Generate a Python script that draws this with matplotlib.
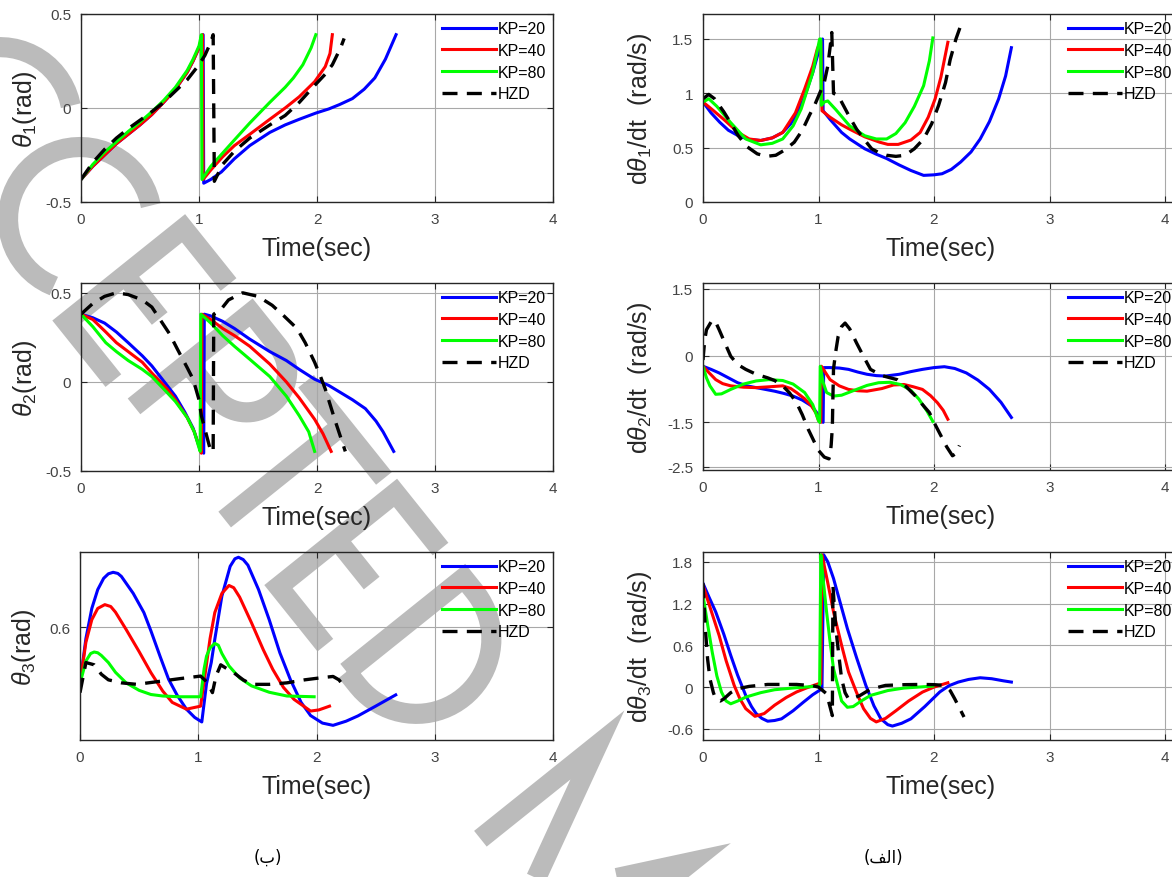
import numpy as np
import matplotlib
matplotlib.use("Agg")
import matplotlib.pyplot as plt

plt.rcParams['font.family'] = ['Liberation Sans', 'DejaVu Sans']
plt.rcParams['axes.unicode_minus'] = False
plt.rcParams['mathtext.fontset'] = 'custom'
plt.rcParams['mathtext.rm'] = 'Liberation Sans'
plt.rcParams['mathtext.it'] = 'Liberation Sans:italic'

# ---------------- data ----------------
labels = ['KP=20', 'KP=40', 'KP=80', 'HZD']

# theta1 (rad)
th1_t20 = [0, 0.1, 0.2, 0.3, 0.4, 0.5, 0.6, 0.7, 0.8, 0.9, 0.95, 1.0, 1.035, 1.04, 1.1, 1.19, 1.3, 1.43, 1.6, 1.73,
           1.85, 1.99, 2.1, 2.19, 2.3, 2.4, 2.49, 2.58, 2.67]
th1_y20 = [-0.38, -0.31, -0.25, -0.19, -0.14, -0.09, -0.035, 0.03, 0.1, 0.19, 0.25, 0.32, 0.39, -0.40, -0.38, -0.34,
           -0.27, -0.20, -0.13, -0.09, -0.06, -0.027, -0.005, 0.018, 0.05, 0.10, 0.16, 0.26, 0.39]
th1_t40 = [0, 0.1, 0.2, 0.3, 0.4, 0.5, 0.6, 0.7, 0.8, 0.9, 0.95, 1.0, 1.03, 1.035, 1.1, 1.2, 1.3, 1.43, 1.6, 1.73,
           1.85, 1.98, 2.07, 2.11, 2.13]
th1_y40 = [-0.38, -0.31, -0.25, -0.19, -0.14, -0.09, -0.035, 0.03, 0.1, 0.19, 0.25, 0.32, 0.39, -0.38, -0.33, -0.26,
           -0.20, -0.14, -0.06, 0.0, 0.06, 0.14, 0.22, 0.29, 0.39]
th1_t80 = [0, 0.1, 0.2, 0.3, 0.4, 0.5, 0.6, 0.7, 0.8, 0.9, 0.95, 1.0, 1.02, 1.025, 1.1, 1.2, 1.3, 1.43, 1.6, 1.73,
           1.8, 1.88, 1.95, 1.99]
th1_y80 = [-0.38, -0.30, -0.235, -0.18, -0.125, -0.075, -0.02, 0.04, 0.11, 0.20, 0.26, 0.33, 0.39, -0.38, -0.31, -0.24,
           -0.17, -0.08, 0.03, 0.11, 0.16, 0.23, 0.32, 0.39]
th1_th = [0, 0.1, 0.2, 0.3, 0.4, 0.5, 0.6, 0.7, 0.8, 0.9, 1.0, 1.05, 1.1, 1.12, 1.13, 1.2, 1.3, 1.43, 1.6, 1.73,
          1.85, 1.98, 2.07, 2.13, 2.2, 2.23]
th1_yh = [-0.38, -0.29, -0.22, -0.16, -0.11, -0.065, -0.02, 0.03, 0.09, 0.15, 0.23, 0.28, 0.35, 0.39, -0.39, -0.30,
          -0.23, -0.16, -0.09, -0.04, 0.03, 0.12, 0.18, 0.23, 0.32, 0.37]

# theta2 (rad)
th2_t20 = [0, 0.1, 0.2, 0.3, 0.4, 0.52, 0.6, 0.73, 0.8, 0.88, 0.95, 1.01, 1.04, 1.045, 1.1, 1.2, 1.3, 1.43, 1.6,
           1.74, 1.85, 1.98, 2.1, 2.2, 2.3, 2.41, 2.5, 2.56, 2.65]
th2_y20 = [0.38, 0.36, 0.33, 0.28, 0.22, 0.146, 0.09, -0.02, -0.08, -0.17, -0.26, -0.38, -0.40, 0.38, 0.37, 0.34,
           0.30, 0.24, 0.17, 0.12, 0.07, 0.015, -0.02, -0.06, -0.10, -0.15, -0.22, -0.28, -0.39]
th2_t40 = [0, 0.1, 0.21, 0.3, 0.4, 0.52, 0.6, 0.73, 0.8, 0.9, 0.96, 1.01, 1.02, 1.025, 1.1, 1.2, 1.3, 1.43, 1.6,
           1.74, 1.85, 1.98, 2.05, 2.12]
th2_y40 = [0.38, 0.35, 0.28, 0.22, 0.17, 0.11, 0.05, -0.04, -0.10, -0.20, -0.28, -0.38, -0.40, 0.38, 0.35, 0.30,
           0.26, 0.20, 0.10, 0.0, -0.09, -0.21, -0.29, -0.39]
th2_t80 = [0, 0.1, 0.21, 0.3, 0.4, 0.52, 0.6, 0.73, 0.8, 0.9, 0.96, 1.0, 1.01, 1.015, 1.05, 1.1, 1.2, 1.3, 1.43,
           1.6, 1.74, 1.85, 1.93, 1.98]
th2_y80 = [0.38, 0.31, 0.22, 0.17, 0.12, 0.07, 0.03, -0.06, -0.11, -0.20, -0.28, -0.37, -0.39, 0.38, 0.36, 0.33,
           0.26, 0.20, 0.127, 0.03, -0.08, -0.19, -0.28, -0.39]
th2_th = [0, 0.1, 0.2, 0.3, 0.4, 0.52, 0.6, 0.67, 0.75, 0.82, 0.9, 0.95, 1.0, 1.02, 1.06, 1.10, 1.12, 1.125, 1.19,
          1.25, 1.37, 1.5, 1.62, 1.72, 1.83, 1.9, 1.98, 2.03, 2.07, 2.15, 2.2, 2.24]
th2_yh = [0.38, 0.44, 0.48, 0.50, 0.49, 0.46, 0.42, 0.35, 0.27, 0.18, 0.08, 0.015, -0.10, -0.19, -0.29, -0.39,
          -0.39, 0.38, 0.41, 0.46, 0.50, 0.48, 0.43, 0.37, 0.30, 0.22, 0.11, 0.03, -0.04, -0.21, -0.31, -0.39]

# theta3 (rad)
th3_t20 = [0, 0.05, 0.1, 0.15, 0.2, 0.24, 0.28, 0.32, 0.35, 0.45, 0.54, 0.6, 0.68, 0.75, 0.82, 0.9, 0.97, 1.03,
           1.07, 1.11, 1.14, 1.2, 1.27, 1.31, 1.34, 1.38, 1.42, 1.51, 1.6, 1.69, 1.78, 1.87, 1.95, 2.05, 2.14,
           2.25, 2.35, 2.5, 2.67]
th3_y20 = [0.45, 0.57, 0.65, 0.70, 0.73, 0.742, 0.746, 0.743, 0.735, 0.69, 0.639, 0.59, 0.52, 0.461, 0.42, 0.382,
           0.36, 0.348, 0.45, 0.506, 0.568, 0.683, 0.762, 0.782, 0.786, 0.78, 0.765, 0.70, 0.62, 0.532, 0.46,
           0.40, 0.365, 0.345, 0.339, 0.35, 0.364, 0.39, 0.42]
th3_t40 = [0, 0.05, 0.1, 0.15, 0.21, 0.26, 0.3, 0.39, 0.5, 0.6, 0.7, 0.78, 0.9, 1.02, 1.06, 1.1, 1.14, 1.2, 1.26,
           1.3, 1.35, 1.45, 1.55, 1.63, 1.72, 1.81, 1.95, 2.02, 2.11]
th3_y40 = [0.45, 0.56, 0.62, 0.65, 0.66, 0.655, 0.64, 0.594, 0.535, 0.479, 0.43, 0.40, 0.382, 0.39, 0.48, 0.57,
           0.639, 0.69, 0.711, 0.705, 0.68, 0.612, 0.54, 0.488, 0.44, 0.408, 0.377, 0.38, 0.39]
th3_t80 = [0, 0.05, 0.09, 0.12, 0.15, 0.18, 0.24, 0.3, 0.39, 0.5, 0.6, 0.7, 0.84, 1.02, 1.05, 1.07, 1.1, 1.14,
           1.17, 1.2, 1.26, 1.35, 1.45, 1.6, 1.75, 1.98]
th3_y80 = [0.45, 0.51, 0.53, 0.534, 0.532, 0.525, 0.506, 0.48, 0.452, 0.432, 0.421, 0.417, 0.415, 0.415, 0.49,
           0.523, 0.545, 0.557, 0.552, 0.53, 0.497, 0.465, 0.444, 0.427, 0.417, 0.415]
th3_th = [0, 0.05, 0.12, 0.18, 0.24, 0.35, 0.48, 0.65, 0.84, 1.02, 1.08, 1.12, 1.15, 1.19, 1.24, 1.3, 1.38, 1.45,
          1.6, 1.75, 1.9, 2.05, 2.14, 2.19, 2.22]
th3_yh = [0.426, 0.506, 0.50, 0.475, 0.46, 0.452, 0.448, 0.455, 0.463, 0.47, 0.452, 0.426, 0.47, 0.50, 0.49, 0.479,
          0.46, 0.448, 0.448, 0.452, 0.46, 0.466, 0.469, 0.46, 0.448]

# d theta1 / dt (rad/s)
dth1_t20 = [0, 0.07, 0.145, 0.22, 0.305, 0.4, 0.5, 0.6, 0.69, 0.76, 0.82, 0.88, 0.95, 1.0, 1.035, 1.04, 1.1, 1.2,
            1.27, 1.4, 1.5, 1.59, 1.7, 1.8, 1.91, 2.0, 2.07, 2.15, 2.23, 2.32, 2.4, 2.48, 2.56, 2.62, 2.67]
dth1_y20 = [0.92, 0.82, 0.734, 0.66, 0.61, 0.575, 0.566, 0.59, 0.64, 0.72, 0.826, 0.97, 1.19, 1.38, 1.50, 0.84,
            0.76, 0.64, 0.58, 0.49, 0.44, 0.40, 0.34, 0.29, 0.245, 0.25, 0.26, 0.30, 0.367, 0.46, 0.58, 0.74,
            0.95, 1.16, 1.42]
dth1_t40 = [0, 0.08, 0.18, 0.305, 0.4, 0.5, 0.6, 0.69, 0.8, 0.88, 0.95, 0.99, 1.02, 1.03, 1.1, 1.2, 1.27, 1.4,
            1.53, 1.6, 1.69, 1.8, 1.88, 1.95, 2.01, 2.06, 2.12]
dth1_y40 = [0.92, 0.85, 0.76, 0.64, 0.58, 0.566, 0.59, 0.64, 0.82, 1.04, 1.25, 1.41, 1.48, 0.84, 0.78, 0.71, 0.67,
            0.60, 0.55, 0.53, 0.53, 0.57, 0.64, 0.78, 0.95, 1.15, 1.47]
dth1_t80 = [0, 0.05, 0.12, 0.24, 0.37, 0.5, 0.6, 0.69, 0.78, 0.85, 0.95, 1.01, 1.02, 1.025, 1.05, 1.08, 1.15, 1.27,
            1.4, 1.5, 1.59, 1.67, 1.75, 1.83, 1.91, 1.96, 1.99]
dth1_y80 = [0.92, 0.95, 0.88, 0.73, 0.58, 0.526, 0.54, 0.58, 0.70, 0.856, 1.19, 1.50, 1.50, 0.89, 0.92, 0.93, 0.85,
            0.70, 0.61, 0.58, 0.58, 0.63, 0.73, 0.88, 1.07, 1.30, 1.51]
dth1_th = [0, 0.05, 0.1, 0.18, 0.25, 0.305, 0.38, 0.47, 0.55, 0.63, 0.71, 0.79, 0.86, 0.92, 0.97, 1.01, 1.05, 1.08,
           1.1, 1.115, 1.13, 1.17, 1.2, 1.27, 1.33, 1.4, 1.46, 1.53, 1.59, 1.67, 1.75, 1.83, 1.91, 1.98, 2.04,
           2.1, 2.14, 2.19, 2.23]
dth1_yh = [0.95, 0.99, 0.95, 0.83, 0.71, 0.61, 0.51, 0.443, 0.42, 0.43, 0.48, 0.55, 0.66, 0.795, 0.90, 1.0, 1.1,
           1.25, 1.42, 1.56, 1.0, 0.98, 0.92, 0.78, 0.67, 0.57, 0.49, 0.45, 0.43, 0.42, 0.43, 0.49, 0.58, 0.72,
           0.89, 1.10, 1.31, 1.50, 1.62]

# d theta2 / dt (rad/s)
dth2_t20 = [0, 0.07, 0.14, 0.22, 0.30, 0.38, 0.46, 0.54, 0.62, 0.7, 0.78, 0.86, 0.94, 0.99, 1.02, 1.04, 1.045,
            1.1, 1.18, 1.26, 1.34, 1.42, 1.5, 1.58, 1.7, 1.8, 1.9, 2.0, 2.09, 2.18, 2.28, 2.38, 2.48, 2.58, 2.67]
dth2_y20 = [-0.24, -0.31, -0.39, -0.50, -0.61, -0.68, -0.72, -0.76, -0.80, -0.85, -0.91, -1.0, -1.13, -1.3,
            -1.46, -1.5, -0.27, -0.27, -0.28, -0.31, -0.37, -0.42, -0.45, -0.46, -0.42, -0.36, -0.31, -0.27,
            -0.25, -0.29, -0.39, -0.55, -0.76, -1.05, -1.39]
dth2_t40 = [0, 0.05, 0.11, 0.17, 0.24, 0.35, 0.46, 0.58, 0.69, 0.76, 0.81, 0.88, 0.94, 0.98, 1.0, 1.02, 1.025,
            1.06, 1.1, 1.18, 1.26, 1.34, 1.42, 1.55, 1.65, 1.74, 1.82, 1.9, 1.97, 2.03, 2.08, 2.12]
dth2_y40 = [-0.24, -0.38, -0.54, -0.63, -0.68, -0.71, -0.72, -0.70, -0.68, -0.74, -0.83, -0.97, -1.13, -1.3,
            -1.46, -1.5, -0.24, -0.38, -0.54, -0.68, -0.76, -0.79, -0.80, -0.74, -0.66, -0.65, -0.70, -0.76,
            -0.90, -1.06, -1.23, -1.43]
dth2_t80 = [0, 0.03, 0.06, 0.11, 0.16, 0.24, 0.35, 0.46, 0.57, 0.69, 0.78, 0.88, 0.95, 1.0, 1.01, 1.015, 1.04,
            1.07, 1.13, 1.2, 1.33, 1.42, 1.52, 1.62, 1.71, 1.8, 1.87, 1.94, 1.99]
dth2_y80 = [-0.24, -0.5, -0.68, -0.87, -0.86, -0.76, -0.64, -0.57, -0.54, -0.56, -0.64, -0.83, -1.1, -1.46,
            -1.5, -0.24, -0.6, -0.83, -0.91, -0.89, -0.76, -0.67, -0.61, -0.60, -0.65, -0.78, -0.98, -1.25, -1.48]
dth2_th = [0, 0.015, 0.03, 0.08, 0.11, 0.14, 0.19, 0.24, 0.3, 0.37, 0.46, 0.56, 0.62, 0.69, 0.75, 0.81, 0.86,
           0.91, 0.96, 1.0, 1.05, 1.09, 1.1, 1.11, 1.12, 1.125, 1.13, 1.15, 1.17, 1.2, 1.23, 1.27, 1.33, 1.39,
           1.45, 1.55, 1.68, 1.76, 1.84, 1.9, 1.96, 2.01, 2.06, 2.11, 2.16, 2.19, 2.22]
dth2_yh = [-0.1, 0.35, 0.58, 0.80, 0.75, 0.58, 0.28, -0.015, -0.2, -0.31, -0.42, -0.50, -0.56, -0.68, -0.84,
           -1.06, -1.33, -1.65, -1.92, -2.13, -2.28, -2.32, -2.25, -2.0, -1.6, -0.9, -0.3, 0.1, 0.43, 0.65,
           0.73, 0.60, 0.28, -0.02, -0.31, -0.45, -0.54, -0.70, -0.91, -1.10, -1.28, -1.55, -1.80, -2.05,
           -2.25, -2.20, -2.02]

# d theta3 / dt (rad/s)
dth3_t20 = [0, 0.05, 0.11, 0.18, 0.24, 0.3, 0.37, 0.42, 0.46, 0.51, 0.56, 0.62, 0.68, 0.78, 0.87, 0.95, 1.03,
            1.045, 1.08, 1.13, 1.19, 1.25, 1.33, 1.41, 1.48, 1.54, 1.6, 1.64, 1.72, 1.8, 1.92, 2.05, 2.13, 2.21,
            2.3, 2.4, 2.5, 2.6, 2.67]
dth3_y20 = [1.49, 1.30, 1.08, 0.76, 0.456, 0.17, -0.12, -0.28, -0.38, -0.45, -0.49, -0.48, -0.456, -0.34,
            -0.216, -0.11, -0.024, 1.9, 1.8, 1.56, 1.2, 0.84, 0.42, 0.024, -0.27, -0.456, -0.54, -0.56, -0.52,
            -0.456, -0.28, -0.07, 0.02, 0.072, 0.11, 0.134, 0.12, 0.09, 0.072]
dth3_t40 = [0, 0.07, 0.14, 0.2, 0.27, 0.32, 0.37, 0.45, 0.53, 0.62, 0.72, 0.81, 0.9, 1.0, 1.02, 1.03, 1.08, 1.13,
            1.2, 1.26, 1.33, 1.39, 1.45, 1.5, 1.58, 1.67, 1.78, 1.9, 2.0, 2.12]
dth3_y40 = [1.46, 1.10, 0.74, 0.38, 0.024, -0.17, -0.31, -0.42, -0.38, -0.26, -0.15, -0.07, -0.01, 0.048, 0.05,
            1.9, 1.5, 1.08, 0.6, 0.216, -0.08, -0.31, -0.45, -0.50, -0.45, -0.34, -0.20, -0.072, 0.0, 0.062]
dth3_t80 = [0, 0.04, 0.08, 0.12, 0.16, 0.2, 0.24, 0.3, 0.37, 0.5, 0.62, 0.8, 1.0, 1.01, 1.02, 1.04, 1.07, 1.1,
            1.13, 1.17, 1.2, 1.25, 1.3, 1.37, 1.45, 1.6, 1.74, 1.99]
dth3_y80 = [1.32, 0.90, 0.50, 0.16, -0.072, -0.20, -0.24, -0.20, -0.144, -0.08, -0.038, -0.01, 0.014, 0.02, 1.9,
            1.55, 1.08, 0.65, 0.264, 0.0, -0.2, -0.29, -0.28, -0.2, -0.12, -0.05, -0.014, 0.014]
dth3_th = [0, 0.02, 0.04, 0.06, 0.09, 0.11, 0.15, 0.18, 0.24, 0.3, 0.4, 0.56, 0.81, 0.95, 1.0, 1.07, 1.12, 1.125,
           1.15, 1.18, 1.2, 1.23, 1.26, 1.3, 1.36, 1.45, 1.58, 1.75, 1.9, 2.0, 2.09, 2.14, 2.18, 2.22, 2.26]
dth3_yh = [1.49, 0.84, 0.40, 0.12, -0.08, -0.17, -0.20, -0.17, -0.08, -0.024, 0.01, 0.038, 0.038, 0.02, 0.0,
           -0.096, -0.41, 1.46, 0.84, 0.40, 0.12, -0.08, -0.17, -0.16, -0.12, -0.03, 0.024, 0.035, 0.038, 0.035,
           0.024, -0.05, -0.17, -0.30, -0.43]

panels = [
    dict(series=[(th1_t20, th1_y20), (th1_t40, th1_y40), (th1_t80, th1_y80), (th1_th, th1_yh)],
         ylabel=r'$\theta_1$(rad)', ylim=(-0.5, 0.5), yticks=[-0.5, 0, 0.5], yticklabels=['-0.5', '0', '0.5']),
    dict(series=[(th2_t20, th2_y20), (th2_t40, th2_y40), (th2_t80, th2_y80), (th2_th, th2_yh)],
         ylabel=r'$\theta_2$(rad)', ylim=(-0.5, 0.555), yticks=[-0.5, 0, 0.5], yticklabels=['-0.5', '0', '0.5']),
    dict(series=[(th3_t20, th3_y20), (th3_t40, th3_y40), (th3_t80, th3_y80), (th3_th, th3_yh)],
         ylabel=r'$\theta_3$(rad)', ylim=(0.3, 0.8), yticks=[0.6], yticklabels=['0.6']),
    dict(series=[(dth1_t20, dth1_y20), (dth1_t40, dth1_y40), (dth1_t80, dth1_y80), (dth1_th, dth1_yh)],
         ylabel=r'd$\theta_1$/dt  (rad/s)', ylim=(0, 1.73), yticks=[0, 0.5, 1, 1.5],
         yticklabels=['0', '0.5', '1', '1.5']),
    dict(series=[(dth2_t20, dth2_y20), (dth2_t40, dth2_y40), (dth2_t80, dth2_y80), (dth2_th, dth2_yh)],
         ylabel=r'd$\theta_2$/dt  (rad/s)', ylim=(-2.57, 1.63), yticks=[-2.5, -1.5, 0, 1.5],
         yticklabels=['-2.5', '-1.5', '0', '1.5']),
    dict(series=[(dth3_t20, dth3_y20), (dth3_t40, dth3_y40), (dth3_t80, dth3_y80), (dth3_th, dth3_yh)],
         ylabel=r'd$\theta_3$/dt  (rad/s)', ylim=(-0.76, 1.94), yticks=[-0.6, 0, 0.6, 1.2, 1.8],
         yticklabels=['-0.6', '0', '0.6', '1.2', '1.8']),
]

colors = ['#0000ff', '#ff0000', '#00ff00', 'black']

W, H = 1172, 878
fig = plt.figure(figsize=(W / 100, H / 100), dpi=100)
fig.patch.set_facecolor('white')

# watermark ("ACCEPTED MANUSCRIPT" in stroke letters, rotated), drawn under the charts
wm = fig.add_axes([0, 0, 1, 1], zorder=0)
wm.set_xlim(0, W)
wm.set_ylim(H, 0)
wm.axis('off')


def arc(cx, cy, r, a0, a1, n=40):
    a = np.radians(np.linspace(a0, a1, n))
    return list(zip(cx + r * np.cos(a), cy + r * np.sin(a)))


glyphs = {
    'A': [[(-0.45, -0.5), (0, 0.5), (0.45, -0.5)], [(-0.27, -0.1), (0.27, -0.1)]],
    'C': [arc(0, 0, 0.48, 62, 300)],
    'E': [[(0.48, 0.5), (0, 0.5), (0, -0.5), (0.5, -0.5)], [(0, 0), (0.37, 0)]],
    'P': [[(0, -0.5), (0, 0.5), (0.29, 0.5)] + arc(0.29, 0.23, 0.27, 90, -90) + [(0, -0.04)]],
    'T': [[(-0.38, 0.5), (0.45, 0.5)], [(0, 0.5), (0, -0.5)]],
    'D': [[(0, -0.5), (0, 0.5), (0.12, 0.5)] + arc(0.12, 0, 0.5, 90, -90) + [(0, -0.5)]],
    'M': [[(0, -0.5), (0, 0.5), (0.5, -0.5), (1.0, 0.5), (1.0, -0.5)]],
}
wm_letters = ['A', 'C', 'C', 'E', 'P', 'T', 'E', 'D', 'M']
wm_offsets = [-290, -128, 0, 72, 180, 325, 411, 520, 734]
wm_origin = (80, 220)
wm_size = 150
phi = np.radians(51.3)
dvec = np.array([np.cos(phi), np.sin(phi)])
uvec = np.array([np.sin(phi), -np.cos(phi)])
for ch, off in zip(wm_letters, wm_offsets):
    for stroke in glyphs[ch]:
        pts = np.array(stroke)
        xy = (np.array(wm_origin)[None, :] + (off + pts[:, :1] * wm_size) * dvec[None, :]
              + (pts[:, 1:2] * wm_size) * uvec[None, :])
        wm.plot(xy[:, 0], xy[:, 1], color='#bbbbbb', lw=14.5, solid_capstyle='butt', solid_joinstyle='miter')

# axes boxes in pixels: (left, top, right, bottom)
boxes = [(81, 15, 553, 203), (81, 284, 553, 472), (80, 553, 553, 741),
         (703, 15, 1179, 203), (703, 284, 1179, 471), (703, 553, 1179, 741)]

for i, (p, (l, t, r, b)) in enumerate(zip(panels, boxes)):
    ax = fig.add_axes([l / W, 1 - b / H, (r - l) / W, (b - t) / H], zorder=1)
    ax.set_facecolor('none')
    for (tt, yy), c, lab in zip(p['series'], colors, labels):
        if lab == 'HZD':
            ax.plot(tt, yy, color=c, lw=2.4, ls=(0, (4.5, 2.8)), label=lab)
        else:
            ax.plot(tt, yy, color=c, lw=2.2, label=lab)
    right_col = i >= 3
    ax.set_xlim(0, 4 * (r - l) / (1165 - 703) if right_col else 4)
    ax.set_xticks([0, 1, 2, 3, 4])
    ax.set_xticklabels(['0', '1', '2', '3', '4'])
    ax.set_ylim(*p['ylim'])
    ax.set_yticks(p['yticks'])
    ax.set_yticklabels(p['yticklabels'])
    ax.grid(True, color='#a8a8a8', lw=0.8)
    ax.tick_params(direction='in', length=4, width=0.8, top=True, right=True,
                   labelsize=11, labelcolor='#444444', color='#262626', pad=7)
    for s in ax.spines.values():
        s.set_color('#262626')
        s.set_linewidth(1.0)
    ax.set_xlabel('Time(sec)', fontsize=18, color='#262626')
    ax.xaxis.set_label_coords(0.5, -0.18)
    ax.set_ylabel(p['ylabel'], fontsize=18, color='#262626')
    ax.yaxis.set_label_coords(-0.088 if not right_col else -0.103, 0.5)
    leg = ax.legend(loc='upper right', bbox_to_anchor=(1, 1), borderaxespad=0, fontsize=11.5,
                    handlelength=3.4, handletextpad=0.1, borderpad=0.45, labelspacing=0.42,
                    fancybox=False, framealpha=0)
    leg.get_frame().set_edgecolor('black')
    leg.get_frame().set_linewidth(1.0)

fig.text(268 / W, 1 - 858 / H, '(\u0628)', fontsize=12, ha='center', va='center',
         family=['DejaVu Sans'])
fig.text(883 / W, 1 - 858 / H, '(\ufed2\ufedf\ufe8d)', fontsize=12, ha='center', va='center',
         family=['DejaVu Sans'])

fig.savefig('out.png', dpi=100)
